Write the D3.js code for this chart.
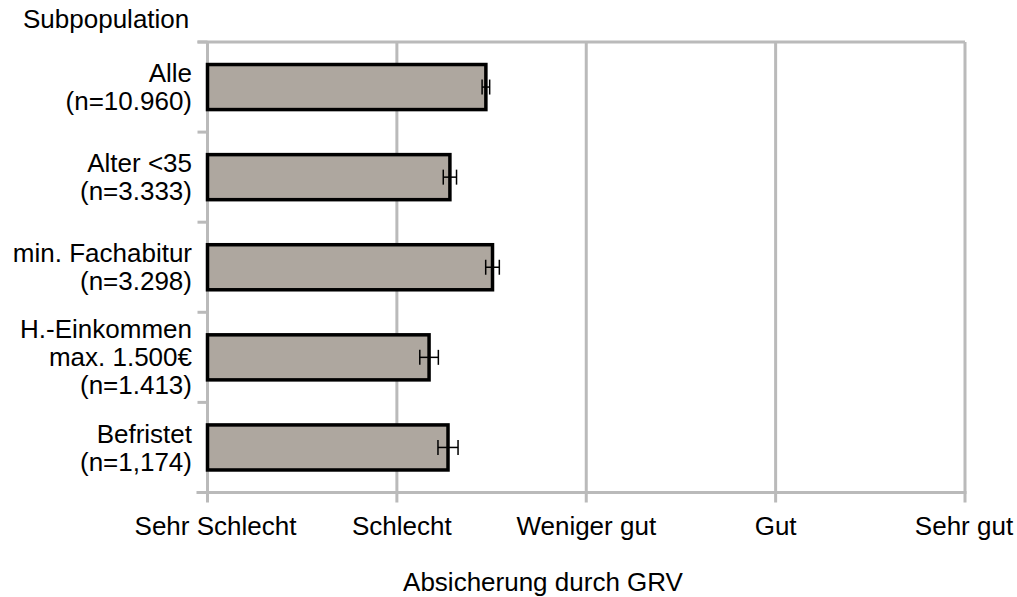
<!DOCTYPE html>
<html>
<head>
<meta charset="utf-8">
<script src="https://cdn.jsdelivr.net/npm/d3@7"></script>
<style>
  body { margin: 0; background: #fff; }
  text { font-family: "Liberation Sans", Arial, sans-serif; fill: #000; }
</style>
</head>
<body>
<svg class="chart"></svg>
<script>
/* Data */
const categories = ["Alle\n(n=10.960)", "Alter <35\n(n=3.333)", "min. Fachabitur\n(n=3.298)", "H.-Einkommen\nmax. 1.500€\n(n=1.413)", "Befristet\n(n=1,174)"]
const values = [2.47, 2.28, 2.505, 2.17, 2.27]
const errors = [0.02, 0.035, 0.036, 0.049, 0.053]
const tickValues = [1, 2, 3, 4, 5]
const tickLabels = ["Sehr Schlecht", "Schlecht", "Weniger gut", "Gut", "Sehr gut"]

const data = categories.map((c, i) => ({ cat: c, value: values[i], err: errors[i] }))

/* Layout */
const width = 1017, height = 597
const plotLeft = 207.5, plotRight = 965, plotTop = 42, plotBottom = 492.5
const grid = "#bababa"
// the source nudges the first labels a little to the right
const labelNudge = [8, 5, 0, 0, -1]

const svg = d3.select("svg.chart")
    .attr("width", width)
    .attr("height", height)

const x = d3.scaleLinear()
    .domain([1, 5])
    .range([plotLeft, plotRight])

const y = d3.scaleBand()
    .domain(categories)
    .range([plotTop, plotBottom])
    .paddingInner(0.5)
    .paddingOuter(0.25)

/* vertical gridlines, reaching down into the ticks */
svg.append("g")
    .selectAll("line")
    .data(tickValues)
    .enter()
    .append("line")
    .attr("x1", d => x(d))
    .attr("x2", d => x(d))
    .attr("y1", plotTop)
    .attr("y2", plotBottom + 10)
    .attr("stroke", grid)
    .attr("stroke-width", 3)

/* top and bottom lines */
svg.append("line")
    .attr("x1", plotLeft - 10).attr("x2", plotRight)
    .attr("y1", plotTop).attr("y2", plotTop)
    .attr("stroke", grid).attr("stroke-width", 3)

svg.append("line")
    .attr("x1", plotLeft - 11).attr("x2", plotRight + 1.5)
    .attr("y1", plotBottom).attr("y2", plotBottom)
    .attr("stroke", grid).attr("stroke-width", 3)

/* category ticks on the left */
svg.append("g")
    .selectAll("line")
    .data(d3.range(categories.length + 1))
    .enter()
    .append("line")
    .attr("x1", plotLeft - 10)
    .attr("x2", plotLeft)
    .attr("y1", i => plotTop + i * y.step())
    .attr("y2", i => plotTop + i * y.step())
    .attr("stroke", grid)
    .attr("stroke-width", 3)

/* bars */
svg.append("g")
    .selectAll("rect")
    .data(data)
    .enter()
    .append("rect")
    .attr("x", x(1))
    .attr("y", d => y(d.cat))
    .attr("width", d => x(d.value) - x(1))
    .attr("height", y.bandwidth())
    .attr("fill", "#aea79f")
    .attr("stroke", "#000")
    .attr("stroke-width", 3.5)

/* error bars */
const eb = svg.append("g")
    .selectAll("g")
    .data(data)
    .enter()
    .append("g")
    .attr("transform", d => "translate(0," + (y(d.cat) + y.bandwidth() / 2) + ")")
    .attr("stroke", "#000")
    .attr("stroke-width", 1.5)

eb.append("line")
    .attr("x1", d => x(d.value - d.err))
    .attr("x2", d => x(d.value + d.err))

eb.append("line")
    .attr("x1", d => x(d.value - d.err))
    .attr("x2", d => x(d.value - d.err))
    .attr("y1", -7.5).attr("y2", 7.5)

eb.append("line")
    .attr("x1", d => x(d.value + d.err))
    .attr("x2", d => x(d.value + d.err))
    .attr("y1", -7.5).attr("y2", 7.5)

/* category labels */
const lineHeight = 28
svg.append("g")
    .selectAll("text")
    .data(categories)
    .enter()
    .append("text")
    .attr("text-anchor", "end")
    .attr("font-size", 26)
    .each(function (c) {
        const lines = c.split("\n")
        const cy = y(c) + y.bandwidth() / 2
        d3.select(this).selectAll("tspan")
            .data(lines)
            .enter()
            .append("tspan")
            .attr("x", 192)
            .attr("y", (l, i) => cy + (i - (lines.length - 1) / 2) * lineHeight)
            .attr("dy", ".35em")
            .text(l => l)
    })

/* value axis labels */
svg.append("g")
    .selectAll("text")
    .data(tickValues)
    .enter()
    .append("text")
    .attr("x", (d, i) => x(d) + labelNudge[i])
    .attr("y", 535)
    .attr("text-anchor", "middle")
    .attr("font-size", 26)
    .text((d, i) => tickLabels[i])

/* titles */
svg.append("text")
    .attr("x", 23)
    .attr("y", 28)
    .attr("font-size", 26)
    .text("Subpopulation")

svg.append("text")
    .attr("x", 543)
    .attr("y", 591)
    .attr("text-anchor", "middle")
    .attr("font-size", 26)
    .text("Absicherung durch GRV")
</script>
</body>
</html>
